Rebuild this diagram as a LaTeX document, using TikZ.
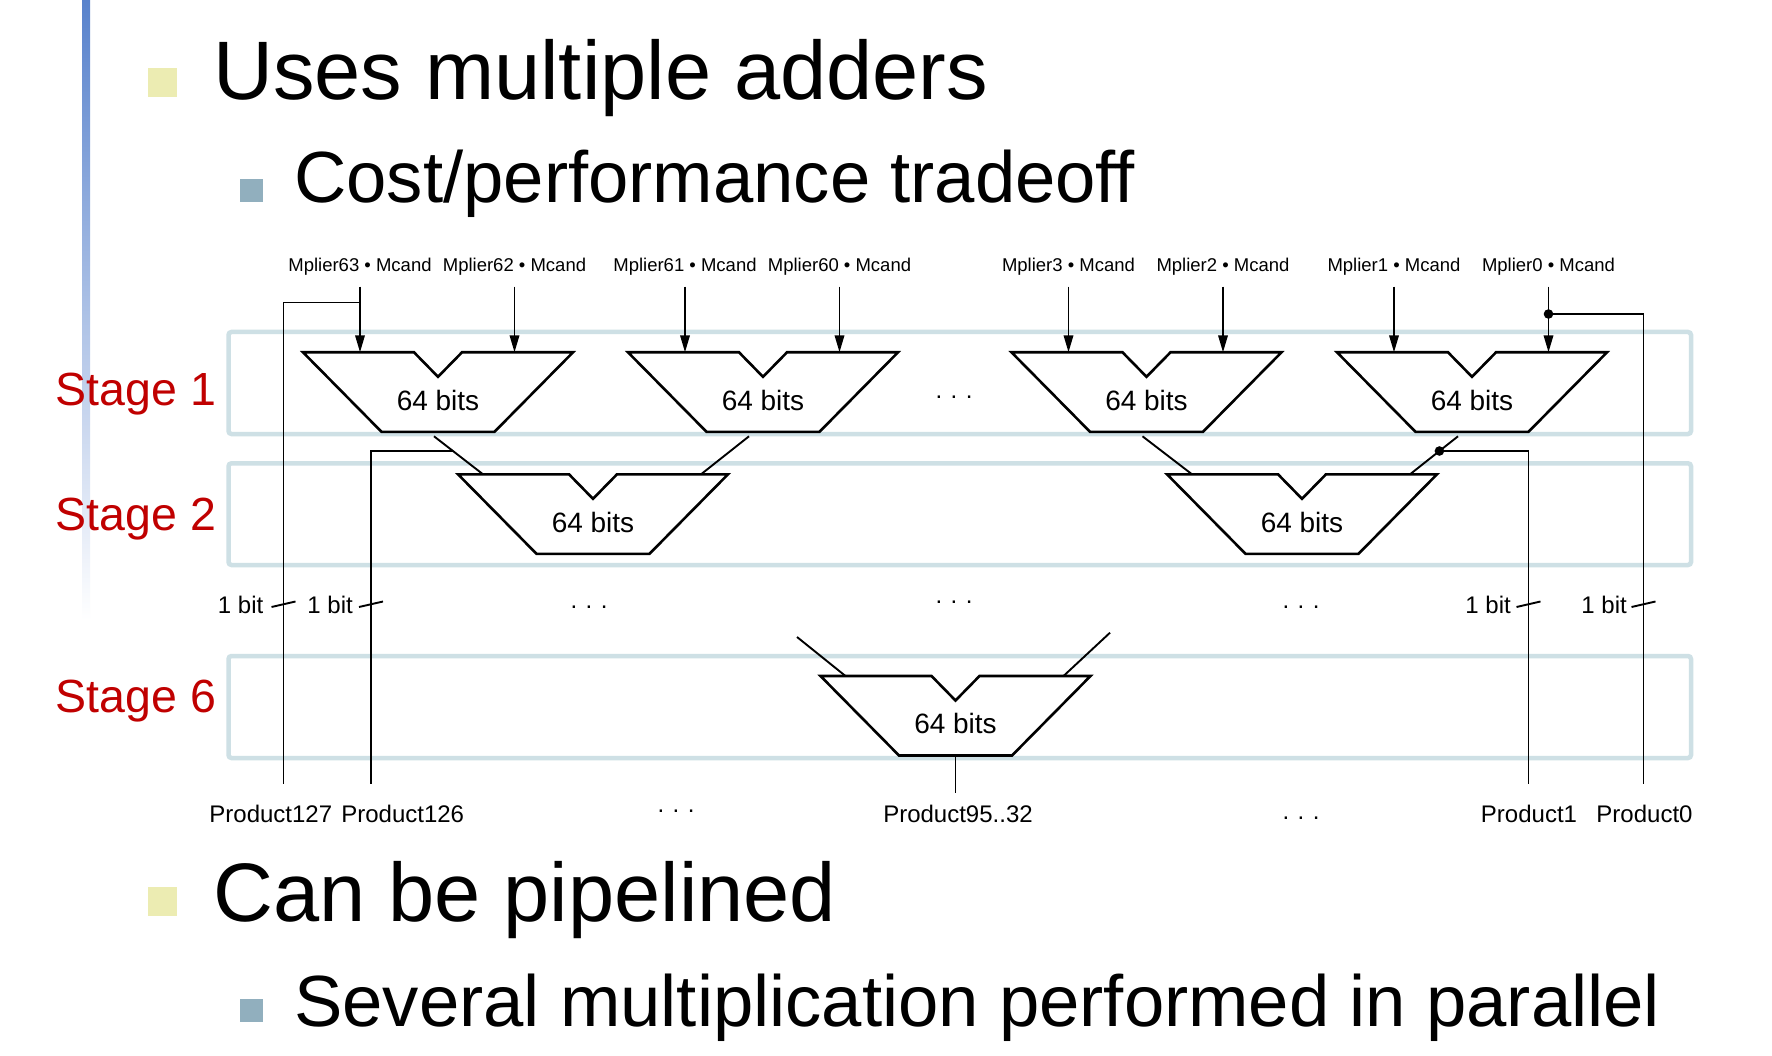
\documentclass[tikz,border=0pt]{standalone}
\usepackage{fontspec}
\setmainfont{Liberation Sans}
\usetikzlibrary{arrows.meta,calc}
\definecolor{stagered}{RGB}{192,0,0}
\definecolor{boxcol}{RGB}{206,224,229}
\definecolor{bulyel}{RGB}{236,236,178}
\definecolor{bulblu}{RGB}{145,175,190}
\definecolor{barblue}{RGB}{88,130,204}
\definecolor{barmid}{RGB}{212,224,242}
\newcommand\mydots{.\hspace{8.5pt}.\hspace{8.5pt}.}
\tikzset{
  adderline/.style={line width=2.6pt, line join=miter, fill=white},
  wire/.style={line width=1.9pt},
  thinwire/.style={line width=1.5pt},
  tickline/.style={line width=1.9pt},
  inarrow/.style={line width=1.9pt, -{Triangle[length=17pt,width=9.5pt]}},
  stagebox/.style={draw=boxcol, line width=4.5pt, rounded corners=3pt},
  bitstext/.style={font=\fontsize{28pt}{30pt}\selectfont, inner sep=0pt, anchor=base},
  mlabel/.style={font=\fontsize{18.5pt}{20pt}\selectfont, inner sep=0pt, anchor=base},
  smalltext/.style={font=\fontsize{24pt}{26pt}\selectfont, inner sep=0pt, anchor=base},
  dotstext/.style={font=\fontsize{24pt}{26pt}\selectfont, inner sep=0pt},
  stagetext/.style={font=\fontsize{46.5pt}{50pt}\selectfont, text=stagered, inner sep=0pt, anchor=base west},
  titleA/.style={font=\fontsize{83pt}{90pt}\selectfont, inner sep=0pt, anchor=base west},
  titleB/.style={font=\fontsize{72.5pt}{80pt}\selectfont, inner sep=0pt, anchor=base west},
  adder/.pic={
    \draw[adderline] (-135,0) -- (-24,0) -- (0,24.5) -- (24,0) -- (135,0) -- (56.5,79.5) -- (-56.5,79.5) -- cycle;
    \node[bitstext] (-t) at (0,57.7) {64 bits};
    \coordinate (-in1) at (-78,0);
    \coordinate (-in2) at (76.5,0);
    \coordinate (-fromL) at (-4,84);
    \coordinate (-fromR) at (-14,84);
    \coordinate (-leftin) at (-110,0);
    \coordinate (-rightin) at (108,0);
    \coordinate (-out) at (0,79.5);
  }
}
\newcommand\tickmark[1]{\draw[tickline] ($(#1 |- 0,604)+(-12,3)$) -- ($(#1 |- 0,604)+(12,-2.5)$);}
\begin{document}
\begin{tikzpicture}[x=1pt,y=-1pt]
\useasboundingbox (0,0) rectangle (1772,1056);
\fill[white] (0,0) rectangle (1772,1056);
% left bar
\shade[top color=barblue, middle color=barmid, bottom color=white] (82,0) rectangle (90,620);
% bullets
\fill[bulyel] (147.7,67.7) rectangle (177,96.7);
\fill[bulblu] (240,179) rectangle (263,202.3);
\fill[bulyel] (147.7,886.7) rectangle (177,915.7);
\fill[bulblu] (240,999.3) rectangle (263,1022);
% titles
\node[titleA] (t1) at (213,100) {Uses multiple adders};
\node[titleB] (t2) at (294,203) {Cost/performance tradeoff};
\node[titleA] (t3) at (213,921) {Can be pipelined};
\node[titleB] (t4) at (294,1026.5) {Several multiplication performed in parallel};
% stage boxes
\draw[stagebox] (228.5,332) rectangle (1691,434);
\draw[stagebox] (228.5,463.3) rectangle (1691,565);
\draw[stagebox] (228.5,656) rectangle (1691,758);
\node[stagetext] (s1) at (55.5,406) {Stage 1};
\node[stagetext] (s2) at (55.5,530) {Stage 2};
\node[stagetext] (s6) at (55.5,712.7) {Stage 6};
% adders
\pic (A) at (438,352.3) {adder};
\pic (B) at (763,352.3) {adder};
\pic (C) at (1146.5,352.3) {adder};
\pic (D) at (1472,352.3) {adder};
\pic (L) at (593,474.3) {adder};
\pic (R) at (1302,474.3) {adder};
\pic (S) at (955.5,676) {adder};
% input labels
\node[mlabel] (m63) at (A-in1 |- 0,272) {Mplier63 • Mcand};
\node[mlabel] (m62) at (A-in2 |- 0,272) {Mplier62 • Mcand};
\node[mlabel] (m61) at (B-in1 |- 0,272) {Mplier61 • Mcand};
\node[mlabel] (m60) at (B-in2 |- 0,272) {Mplier60 • Mcand};
\node[mlabel] (m3) at (C-in1 |- 0,272) {Mplier3 • Mcand};
\node[mlabel] (m2) at (C-in2 |- 0,272) {Mplier2 • Mcand};
\node[mlabel] (m1) at (D-in1 |- 0,272) {Mplier1 • Mcand};
\node[mlabel] (m0) at (D-in2 |- 0,272) {Mplier0 • Mcand};
\foreach \m/\a in {m63/A-in1, m62/A-in2, m61/B-in1, m60/B-in2, m3/C-in1, m2/C-in2, m1/D-in1, m0/D-in2}
  \draw[inarrow] ([yshift=-14.7pt]\m.base) -- (\a);
% stage connectors
\draw[wire] (A-fromL) -- (L-leftin);
\draw[wire] (B-fromR) -- (L-rightin);
\draw[wire] (C-fromL) -- (R-leftin);
\draw[wire] (D-fromR) -- (R-rightin);
\coordinate (s6l) at (797,637);
\coordinate (s6r) at (1110,632.7);
\draw[wire] (s6l) -- (S-leftin);
\draw[wire] (s6r) -- (S-rightin);
% product wires
\coordinate (e127) at (283.5,784);
\coordinate (e126) at (371,784);
\coordinate (e1) at (1528.5,784);
\coordinate (e0) at (1643.5,784);
\coordinate (e9532) at (955.5,793);
\coordinate (j63) at (A-in1 |- 0,302.7);
\coordinate (j0) at (D-in2 |- 0,314);
\coordinate (j126) at ($(A-fromL)!0.387!(L-leftin)$);
\coordinate (j1) at ($(D-fromR)!0.387!(R-rightin)$);
\draw[thinwire] (j63) -| (e127);
\draw[thinwire] (j126) -| (e126);
\draw[thinwire] (j1) -| (e1);
\draw[thinwire] (j0) -| (e0);
\fill (j0) circle (4.8);
\fill (j1) circle (4.8);
\draw[thinwire] (S-out) -- (e9532);
% ticks and bit labels
\tickmark{e127}
\tickmark{e126}
\tickmark{e1}
\tickmark{e0}
\node[smalltext, anchor=base east] (b127) at (263.5,613.5) {1 bit};
\node[smalltext, anchor=base east] (b126) at (353,613.5) {1 bit};
\node[smalltext, anchor=base east] (b1) at (1511,613.5) {1 bit};
\node[smalltext, anchor=base east] (b0) at (1627,613.5) {1 bit};
% product labels
\node[smalltext] (p127) at (270.8,822) {Product127};
\node[smalltext] (p126) at (402.7,822) {Product126};
\node[smalltext] (p9532) at (958,822) {Product95..32};
\node[smalltext] (p1) at (1529,822) {Product1};
\node[smalltext] (p0) at (1644.5,822) {Product0};
% ellipses
\node[dotstext] (d1) at (954,397) {\mydots};
\node[dotstext] (d2) at (589,607) {\mydots};
\node[dotstext] (d3) at (954,602) {\mydots};
\node[dotstext] (d4) at (1301,607) {\mydots};
\node[dotstext] (d5) at (676,811) {\mydots};
\node[dotstext] (d6) at (1301,818) {\mydots};
\end{tikzpicture}
\end{document}
